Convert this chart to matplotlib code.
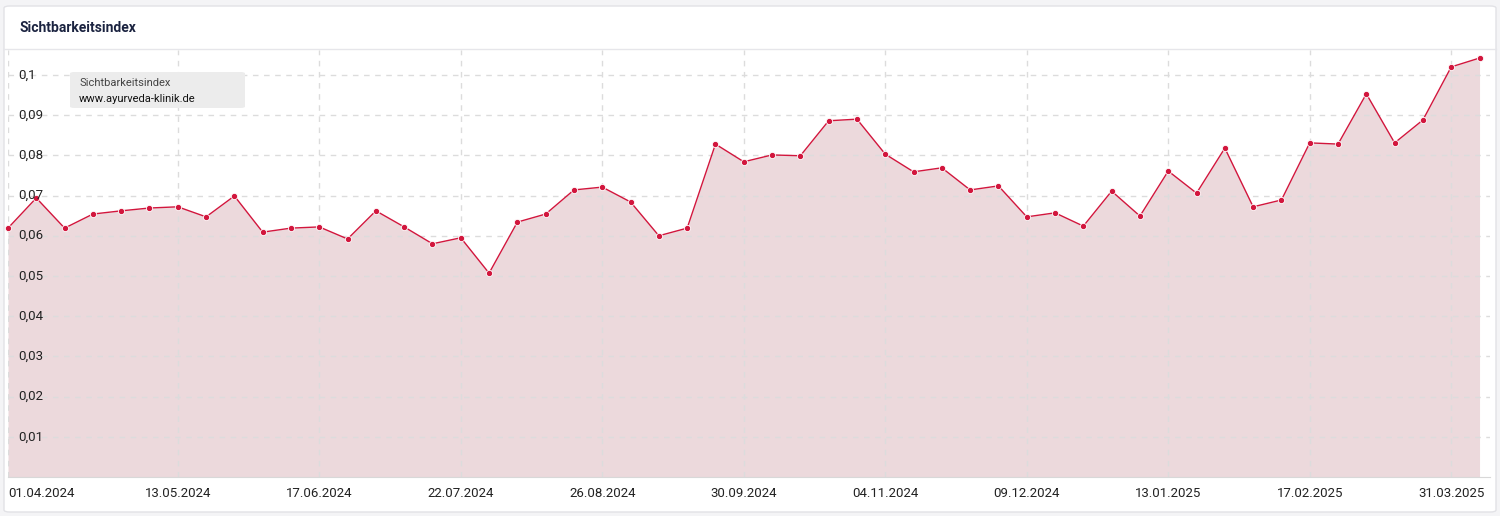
import matplotlib
matplotlib.use("Agg")
import matplotlib.pyplot as plt
from matplotlib.patches import FancyBboxPatch

values = [0.0619,0.0694,0.0619,0.0654,0.0662,0.0669,0.0672,0.0647,0.0699,0.0609,
          0.0619,0.0622,0.0592,0.0662,0.0622,0.0580,0.0595,0.0507,0.0634,0.0654,
          0.0714,0.0721,0.0684,0.0600,0.0619,0.0828,0.0784,0.0801,0.0799,0.0886,
          0.0890,0.0803,0.0759,0.0769,0.0714,0.0724,0.0647,0.0657,0.0624,0.0711,
          0.0649,0.0761,0.0706,0.0818,0.0672,0.0689,0.0831,0.0828,0.0953,0.0831,
          0.0888,0.1020,0.1042]
tick_pos = [0, 6, 11, 16, 21, 26, 31, 36, 41, 46, 51]
tick_labels = ["01.04.2024","13.05.2024","17.06.2024","22.07.2024","26.08.2024",
               "30.09.2024","04.11.2024","09.12.2024","13.01.2025","17.02.2025","31.03.2025"]
y_ticks = [0.01,0.02,0.03,0.04,0.05,0.06,0.07,0.08,0.09,0.1]
y_labels = ["0,01","0,02","0,03","0,04","0,05","0,06","0,07","0,08","0,09","0,1"]

plt.rcParams['font.family'] = ['Roboto', 'DejaVu Sans']
fig = plt.figure(figsize=(15, 5.16), dpi=100)
fig.patch.set_facecolor('#f4f4f6')
card = FancyBboxPatch((4/1500, 4/516), 1492/1500, 506/516, boxstyle="round,pad=0,rounding_size=0.004",
                      transform=fig.transFigure, facecolor='white', edgecolor='#e2e2e6', lw=1, zorder=-10)
fig.patches.append(card)
fig.text(20/1500, 1-28/516, "Sichtbarkeitsindex", fontsize=10, fontweight='bold', color='#1b2340', va='center')
fig.add_artist(plt.Line2D([4/1500, 1496/1500], [1-49/516]*2, transform=fig.transFigure, color='#e6e6ea', lw=1, zorder=-5))

ax = fig.add_axes([8/1500, 39/516, 1482/1500, 427/516])
ax.set_zorder(1)
ax.set_facecolor('none')
x = list(range(len(values)))
ax.fill_between(x, values, 0, color='#ecd9dc', lw=0)
ax.plot(x, values, color='#d2163d', lw=1, marker='o', ms=4.5, mfc='#d2163d', mec='white', mew=0.6, clip_on=False)
ax.set_xlim(0, 52.37)
ax.set_ylim(0, 0.1062)
ax.set_yticks(y_ticks)
ax.set_yticklabels([])
ax.set_xticks(tick_pos)
ax.set_xticklabels([])
ax.tick_params(length=0)
ax.grid(True, ls=(0, (4, 4)), color='#dcdcdc', lw=1)
for s in ['top', 'right', 'left']:
    ax.spines[s].set_visible(False)
ax.spines['bottom'].set_color('#d8d8d8')
for v, l in zip(y_ticks, y_labels):
    ax.text(0.35, v, l, fontsize=9.5, color='#222', va='center', ha='left')
for i, (p, l) in enumerate(zip(tick_pos, tick_labels)):
    ax.text(p, -0.004, l, fontsize=9.5, color='#222', va='center',
            ha='left' if i == 0 else 'center', clip_on=False)
leg = FancyBboxPatch((70/1500, 1-108/516), 175/1500, 36/516, boxstyle="round,pad=0,rounding_size=0.003",
                     transform=fig.transFigure, facecolor='#ececec', edgecolor='none', zorder=5)
fig.add_artist(leg)
fig.text(79/1500, 1-83/516, "Sichtbarkeitsindex", fontsize=8, color='#444', va='center', zorder=6)
fig.text(79/1500, 1-99/516, "www.ayurveda-klinik.de", fontsize=8, color='#111', va='center', zorder=6)
fig.savefig("out.png", dpi=100, facecolor=fig.get_facecolor())
